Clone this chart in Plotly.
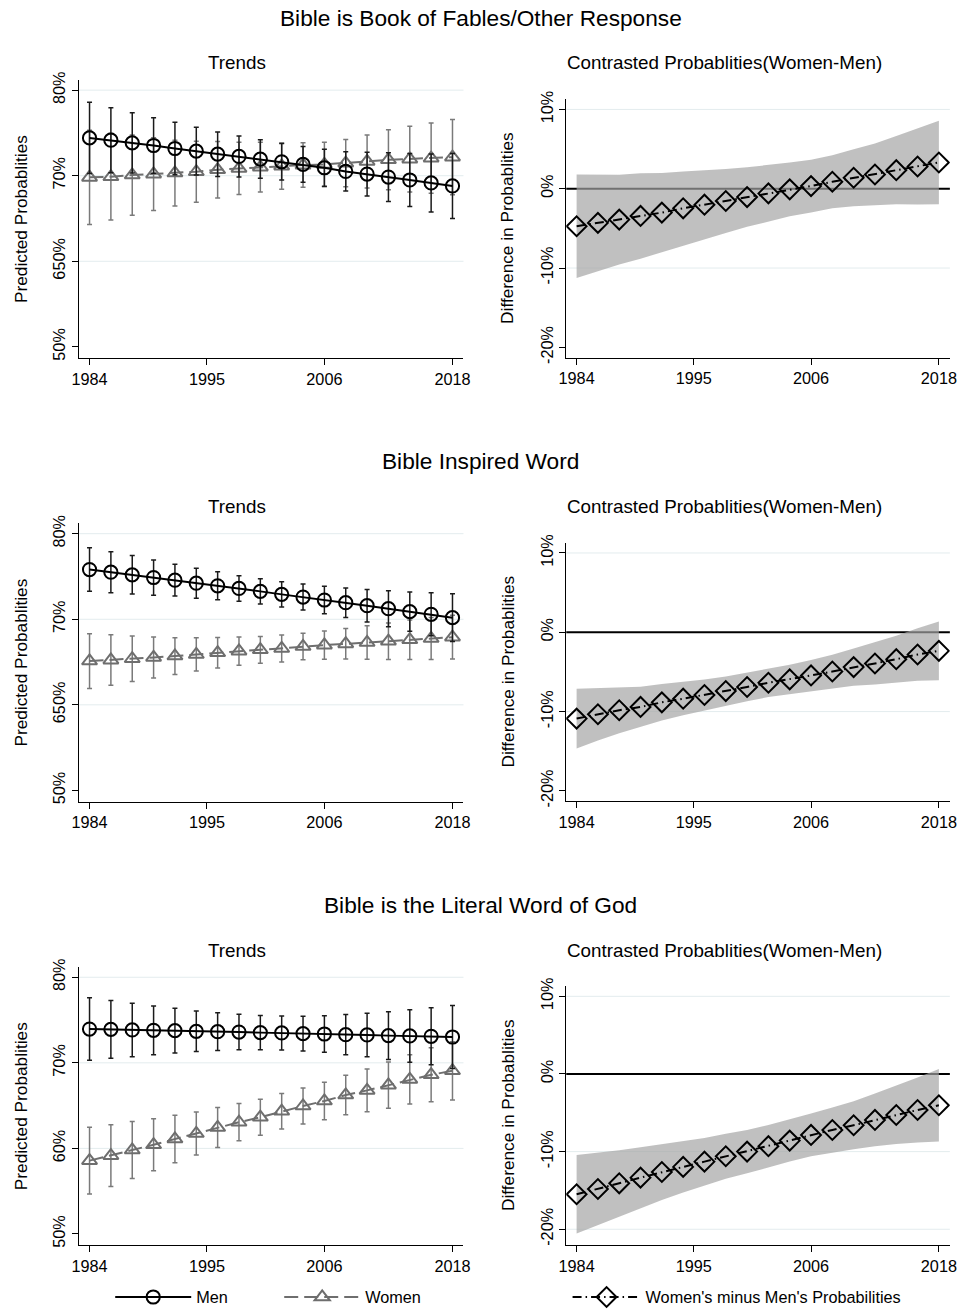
import plotly.graph_objects as go

# ---------------------------------------------------------------- data
years = [1984, 1986, 1988, 1990, 1992, 1994, 1996, 1998, 2000,
         2002, 2004, 2006, 2008, 2010, 2012, 2014, 2016, 2018]

x_ticks = [1984, 1995, 2006, 2018]
trend_ticks = [50, 60, 70, 80]
diff_ticks = [-20, -10, 0, 10]
diff_labels = ["-20%", "-10%", "0%", "10%"]

row_titles = ["Bible is Book of Fables/Other Response",
              "Bible Inspired Word",
              "Bible is the Literal Word of God"]
trend_labels = [["50%", "650%", "70%", "80%"],
                ["50%", "650%", "70%", "80%"],
                ["50%", "60%", "70%", "80%"]]

# predicted probabilities (%) and 95% CI half-widths
fab_men = [74.42, 74.15, 73.84, 73.53, 73.18, 72.87, 72.52, 72.25, 71.94,
           71.63, 71.32, 70.93, 70.50, 70.19, 69.84, 69.50, 69.15, 68.80]
fab_men_ci = [4.15, 3.80, 3.52, 3.25, 3.06, 2.79, 2.60, 2.40, 2.25,
              2.14, 2.09, 2.15, 2.30, 2.55, 2.85, 3.10, 3.40, 3.80]
fab_women = [69.81, 69.88, 70.08, 70.19, 70.31, 70.47, 70.70, 70.85, 71.00,
             71.12, 71.24, 71.32, 71.47, 71.67, 71.86, 71.94, 72.05, 72.17]
fab_women_ci = [5.50, 5.07, 4.69, 4.26, 3.84, 3.57, 3.30, 3.05, 2.90,
                2.70, 2.60, 2.60, 2.75, 3.10, 3.50, 3.85, 4.10, 4.40]
fab_diff = [-4.73, -4.31, -3.89, -3.43, -3.01, -2.47, -2.01, -1.55, -1.05,
            -0.59, -0.08, 0.33, 0.88, 1.38, 1.80, 2.34, 2.80, 3.31]
fab_diff_ci = [6.53, 6.09, 5.65, 5.39, 5.00, 4.64, 4.32, 4.03, 3.76,
               3.56, 3.38, 3.32, 3.35, 3.60, 3.89, 4.30, 4.78, 5.27]

ins_men = [75.81, 75.50, 75.19, 74.88, 74.57, 74.22, 73.91, 73.60, 73.26,
           72.91, 72.60, 72.25, 71.94, 71.59, 71.24, 70.89, 70.58, 70.19]
ins_men_ci = [2.55, 2.40, 2.25, 2.06, 1.86, 1.75, 1.63, 1.50, 1.47,
              1.47, 1.51, 1.60, 1.72, 1.90, 2.10, 2.30, 2.52, 2.80]
ins_women = [65.12, 65.23, 65.39, 65.54, 65.70, 65.89, 66.09, 66.28, 66.43,
             66.59, 66.82, 66.98, 67.13, 67.29, 67.44, 67.60, 67.75, 67.91]
ins_women_ci = [3.20, 2.95, 2.65, 2.40, 2.15, 1.94, 1.78, 1.65, 1.57,
                1.57, 1.56, 1.65, 1.78, 1.96, 2.13, 2.30, 2.45, 2.55]
ins_diff = [-10.88, -10.33, -9.83, -9.41, -8.83, -8.37, -7.91, -7.41, -6.90,
            -6.36, -5.94, -5.44, -4.94, -4.39, -3.93, -3.39, -2.80, -2.34]
ins_diff_ci = [3.77, 3.30, 2.90, 2.55, 2.30, 2.10, 1.95, 1.85, 1.80,
               1.80, 1.85, 1.95, 2.10, 2.35, 2.65, 2.95, 3.30, 3.70]

lit_men = [73.95, 73.91, 73.84, 73.80, 73.76, 73.68, 73.64, 73.60, 73.53,
           73.49, 73.41, 73.37, 73.29, 73.26, 73.18, 73.14, 73.10, 73.02]
lit_men_ci = [3.65, 3.38, 3.12, 2.85, 2.62, 2.37, 2.20, 2.07, 2.01,
              1.98, 2.02, 2.13, 2.35, 2.54, 2.80, 3.06, 3.33, 3.69]
lit_women = [58.57, 59.15, 59.81, 60.43, 61.09, 61.74, 62.44, 63.06, 63.64,
             64.34, 64.96, 65.54, 66.24, 66.78, 67.40, 68.06, 68.60, 69.07]
lit_women_ci = [3.90, 3.60, 3.33, 3.03, 2.78, 2.52, 2.33, 2.18, 2.10,
                2.08, 2.10, 2.18, 2.30, 2.50, 2.70, 2.88, 3.16, 3.40]
lit_diff = [-15.49, -14.81, -14.08, -13.35, -12.62, -11.97, -11.29, -10.60, -10.00,
            -9.30, -8.58, -7.85, -7.21, -6.61, -5.92, -5.28, -4.64, -4.03]
lit_diff_ci = [5.04, 4.65, 4.25, 3.90, 3.60, 3.30, 3.05, 2.90, 2.80,
               2.72, 2.70, 2.75, 2.90, 3.10, 3.40, 3.75, 4.20, 4.67]

rows = [
    (fab_men, fab_men_ci, fab_women, fab_women_ci, fab_diff, fab_diff_ci),
    (ins_men, ins_men_ci, ins_women, ins_women_ci, ins_diff, ins_diff_ci),
    (lit_men, lit_men_ci, lit_women, lit_women_ci, lit_diff, lit_diff_ci),
]

# ---------------------------------------------------------------- geometry
# Layout positions below are written in screen pixels of the final page.
# The figure sits inside the 8px body margin and the page area of
# 976x1331 is shown at 960x1315, so screen pixels are converted here.
W, H = 960, 1315
BODY = 8
SX, SY = 960 / 976, 1315 / 1331
K = 1 / SX                     # size factor for fonts, markers, ticks


def fx(px):
    return (px / SX - BODY) / W


def fy(py):
    return 1 - (py / SY - BODY) / H


def suffix(k):
    return "" if k == 1 else str(k)


# ---------------------------------------------------------------- style
FONT = "Arial, 'Liberation Sans', sans-serif"
BLACK = "#000000"
GREY = "#6e6e6e"
BAND = "rgba(163,163,163,0.69)"
GRID = "#e3ecee"
ROW_STEP = 445
X_RANGE = [1983.03, 2019.03]
TREND_RANGE = [48.7, 81.2]
DIFF_RANGES = [[-21.3, 11.3], [-21.3, 11.3], [-22.0, 11.3]]

fig = go.Figure()
shapes = []
annotations = []
layout_axes = {}


def axis_style(**kw):
    base = dict(showline=True, linecolor=BLACK, linewidth=1.3,
                ticks="outside", ticklen=6 * K, tickwidth=1.3, tickcolor=BLACK,
                showgrid=False, zeroline=False,
                tickfont=dict(family=FONT, size=16 * K, color=BLACK))
    base.update(kw)
    return base


def label(text, x, y, size, angle=0):
    return dict(text=text, x=fx(x), y=fy(y), xref="paper", yref="paper",
                showarrow=False, textangle=angle,
                xanchor="center", yanchor="middle",
                font=dict(family=FONT, size=size * K, color=BLACK))


for r, (men, men_ci, women, women_ci, diff, diff_ci) in enumerate(rows):
    off = ROW_STEP * r
    kl, kr = suffix(2 * r + 1), suffix(2 * r + 2)
    xl, yl = f"x{kl}", f"y{kl}"
    xr, yr = f"x{kr}", f"y{kr}"
    dr = DIFF_RANGES[r]

    # -------- left: trends
    layout_axes[f"xaxis{kl}"] = axis_style(
        domain=[fx(79), fx(463)], range=X_RANGE, anchor=yl,
        tickmode="array", tickvals=x_ticks)
    layout_axes[f"yaxis{kl}"] = axis_style(
        domain=[fy(358 + off), fy(79 + off)], range=TREND_RANGE, anchor=xl,
        tickmode="array", tickvals=trend_ticks, ticktext=trend_labels[r],
        tickangle=-90)
    # -------- right: contrasts
    layout_axes[f"xaxis{kr}"] = axis_style(
        domain=[fx(565.7), fx(949)], range=X_RANGE, anchor=yr,
        tickmode="array", tickvals=x_ticks)
    layout_axes[f"yaxis{kr}"] = axis_style(
        domain=[fy(357.7 + off), fy(98.3 + off)], range=dr, anchor=xr,
        tickmode="array", tickvals=diff_ticks, ticktext=diff_labels,
        tickangle=-90)

    # gridlines (skipped when a tick sits right on the bottom of the axis)
    for t in trend_ticks:
        if t - TREND_RANGE[0] > 1.5:
            shapes.append(dict(type="line", xref=f"{xl} domain", x0=0, x1=1,
                               yref=yl, y0=t, y1=t, layer="below",
                               line=dict(color=GRID, width=1)))
    for t in diff_ticks:
        if t - dr[0] > 1.5 and t != 0:
            shapes.append(dict(type="line", xref=f"{xr} domain", x0=0, x1=1,
                               yref=yr, y0=t, y1=t, layer="below",
                               line=dict(color=GRID, width=1)))
    # reference line at zero difference
    shapes.append(dict(type="line", xref=f"{xr} domain", x0=0, x1=1,
                       yref=yr, y0=0, y1=0, layer="below",
                       line=dict(color=BLACK, width=2)))

    # women
    fig.add_trace(go.Scatter(
        x=years, y=women, xaxis=xl, yaxis=yl, name="Women",
        mode="lines+markers", legend="legend", showlegend=(r == 0),
        line=dict(color=GREY, width=2, dash="14px,6px"),
        marker=dict(symbol="triangle-up-open", size=13 * K, color=GREY,
                    line=dict(width=2, color=GREY)),
        error_y=dict(type="data", array=women_ci, color="#7a7a7a",
                     thickness=1.5, width=2.5)))
    # men
    fig.add_trace(go.Scatter(
        x=years, y=men, xaxis=xl, yaxis=yl, name="Men",
        mode="lines+markers", legend="legend", showlegend=(r == 0),
        line=dict(color=BLACK, width=2),
        marker=dict(symbol="circle-open", size=13 * K, color=BLACK,
                    line=dict(width=2, color=BLACK)),
        error_y=dict(type="data", array=men_ci, color="#1a1a1a",
                     thickness=1.5, width=2.5)))

    # confidence band of the contrast
    lo = [d - c for d, c in zip(diff, diff_ci)]
    hi = [d + c for d, c in zip(diff, diff_ci)]
    fig.add_trace(go.Scatter(
        x=years, y=lo, xaxis=xr, yaxis=yr, mode="lines",
        line=dict(width=0), showlegend=False, hoverinfo="skip"))
    fig.add_trace(go.Scatter(
        x=years, y=hi, xaxis=xr, yaxis=yr, mode="lines",
        line=dict(width=0), fill="tonexty", fillcolor=BAND,
        showlegend=False, hoverinfo="skip"))
    fig.add_trace(go.Scatter(
        x=years, y=diff, xaxis=xr, yaxis=yr,
        name="Women's minus Men's Probabilities",
        mode="lines+markers", legend="legend2", showlegend=(r == 0),
        line=dict(color=BLACK, width=2, dash="9px,4px,1.5px,4px"),
        marker=dict(symbol="diamond-open", size=15 * K, color=BLACK,
                    line=dict(width=2, color=BLACK))))

    # titles
    annotations.append(label(row_titles[r], 480, 16.5 + off, 22.3))
    annotations.append(label("Trends", 237, 62 + off, 18.5))
    annotations.append(label("Contrasted Probablities(Women-Men)",
                             723.5, 62 + off, 18.5))
    annotations.append(label("Predicted Probablities", 21, 218.5 + off, 17,
                             angle=-90))
    annotations.append(label("Difference in Probablities", 507, 228 + off, 17,
                             angle=-90))

legend_common = dict(orientation="h", yanchor="middle", xanchor="left",
                     y=fy(1300.5), bgcolor="rgba(0,0,0,0)",
                     font=dict(family=FONT, size=16 * K, color=BLACK),
                     traceorder="reversed")

fig.update_layout(
    width=W, height=H,
    margin=dict(l=0, r=0, t=0, b=0),
    paper_bgcolor="white", plot_bgcolor="white",
    font=dict(family=FONT, color=BLACK),
    shapes=shapes, annotations=annotations,
    legend=dict(x=fx(110), itemwidth=76, entrywidth=78,
                entrywidthmode="pixels", **legend_common),
    legend2=dict(x=fx(567), itemwidth=68, **legend_common),
    **layout_axes,
)

fig.write_html("out.html")
